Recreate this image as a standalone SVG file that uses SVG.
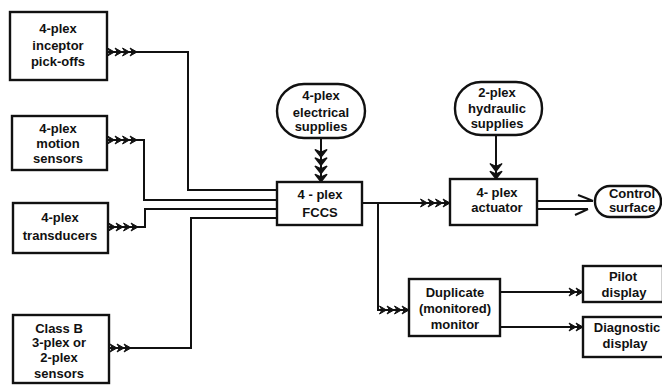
<svg xmlns="http://www.w3.org/2000/svg" xmlns:xlink="http://www.w3.org/1999/xlink" width="662" height="385" viewBox="0 0 662 385">
<style>
.bx{fill:none;stroke:#111;stroke-width:2.4}
.ln{fill:none;stroke:#111;stroke-width:2}
.t{font-family:"Liberation Sans",Arial,sans-serif;font-weight:bold;font-size:13px;fill:#111;text-anchor:middle}
.ch{fill:#111;stroke:#111;stroke-width:1;stroke-linejoin:miter}
</style>
<defs>
<path id="chv" class="ch" d="M-7,-4 L0,0 L-7,4 L-4.5,0 Z"/>
<g id="c2"><use href="#chv"/><use href="#chv" x="-7"/></g>
<g id="c3"><use href="#chv"/><use href="#chv" x="-7"/><use href="#chv" x="-14"/></g>
<g id="c4"><use href="#chv"/><use href="#chv" x="-7.5"/><use href="#chv" x="-15"/><use href="#chv" x="-22.5"/></g>
</defs>
<rect width="662" height="385" fill="#fff"/>

<g id="connectors">
<polyline class="ln" points="107,52 188,52 188,190 277,190"/>
<use href="#c4" transform="translate(137,52)"/>
<polyline class="ln" points="107,140 144,140 144,200 277,200"/>
<use href="#c4" transform="translate(137,140)"/>
<polyline class="ln" points="108,227 145,227 145,209 277,209"/>
<use href="#c4" transform="translate(138,227)"/>
<polyline class="ln" points="109,348 191,348 191,218 277,218"/>
<use href="#c3" transform="translate(131,348)"/>
<line class="ln" x1="321" y1="138" x2="321" y2="182"/>
<use href="#c4" transform="translate(321,182) rotate(90) scale(1.1,1.5)"/>
<line class="ln" x1="496" y1="135" x2="496" y2="179"/>
<use href="#c2" transform="translate(496,179) rotate(90) scale(1.1,1.5)"/>
<line class="ln" x1="362" y1="203" x2="450" y2="203"/>
<use href="#c4" transform="translate(450,203)"/>
<polyline class="ln" points="378,203 378,310 409,310"/>
<use href="#c4" transform="translate(409,310)"/>
<line class="ln" x1="537" y1="201" x2="593" y2="201"/>
<path class="ln" d="M578,195 Q586,198 593,201"/>
<line class="ln" x1="537" y1="209" x2="588" y2="209"/>
<path class="ln" d="M575,215 Q582,212 588,209"/>
<line class="ln" x1="500" y1="292" x2="583" y2="292"/>
<use href="#c2" transform="translate(583,292)"/>
<line class="ln" x1="500" y1="327" x2="583" y2="327"/>
<use href="#c2" transform="translate(583,327)"/>
</g>

<g id="inceptor">
<rect class="bx" x="10" y="12" width="97" height="68"/>
<text class="t" x="58" y="33">4-plex</text>
<text class="t" x="58" y="50">inceptor</text>
<text class="t" x="58" y="66">pick-offs</text>
</g>
<g id="motion">
<rect class="bx" x="12" y="116" width="95" height="54"/>
<text class="t" x="58" y="133">4-plex</text>
<text class="t" x="58" y="148">motion</text>
<text class="t" x="58" y="163">sensors</text>
</g>
<g id="transducers">
<rect class="bx" x="13" y="203" width="95" height="50"/>
<text class="t" x="60" y="222">4-plex</text>
<text class="t" x="60" y="240">transducers</text>
</g>
<g id="classb">
<rect class="bx" x="13" y="315" width="96" height="68"/>
<text class="t" x="59" y="333">Class B</text>
<text class="t" x="59" y="347">3-plex or</text>
<text class="t" x="59" y="362">2-plex</text>
<text class="t" x="59" y="378">sensors</text>
</g>
<g id="electrical">
<rect class="bx" x="277" y="84" width="88" height="54" rx="27" ry="27"/>
<text class="t" x="321" y="100">4-plex</text>
<text class="t" x="321" y="117">electrical</text>
<text class="t" x="321" y="131">supplies</text>
</g>
<g id="fccs">
<rect class="bx" x="277" y="182" width="85" height="43"/>
<text class="t" x="320" y="199">4 - plex</text>
<text class="t" x="320" y="217">FCCS</text>
</g>
<g id="hydraulic">
<rect class="bx" x="455" y="82" width="87" height="53" rx="26" ry="26"/>
<text class="t" x="497" y="97">2-plex</text>
<text class="t" x="497" y="113">hydraulic</text>
<text class="t" x="497" y="128">supplies</text>
</g>
<g id="actuator">
<rect class="bx" x="450" y="179" width="87" height="46"/>
<text class="t" x="497" y="197">4- plex</text>
<text class="t" x="497" y="212">actuator</text>
</g>
<g id="control">
<rect class="bx" x="595" y="186" width="66" height="31" rx="15" ry="15"/>
<text class="t" x="632" y="198">Control</text>
<text class="t" x="632" y="212">surface</text>
</g>
<g id="duplicate">
<rect class="bx" x="409" y="279" width="91" height="57"/>
<text class="t" x="455" y="297">Duplicate</text>
<text class="t" x="455" y="313">(monitored)</text>
<text class="t" x="455" y="329">monitor</text>
</g>
<g id="pilot">
<rect class="bx" x="583" y="266" width="80" height="36"/>
<text class="t" x="623" y="281">Pilot</text>
<text class="t" x="624" y="297">display</text>
</g>
<g id="diagnostic">
<rect class="bx" x="583" y="317" width="82" height="40"/>
<text class="t" x="627" y="332">Diagnostic</text>
<text class="t" x="625" y="348">display</text>
</g>
</svg>
